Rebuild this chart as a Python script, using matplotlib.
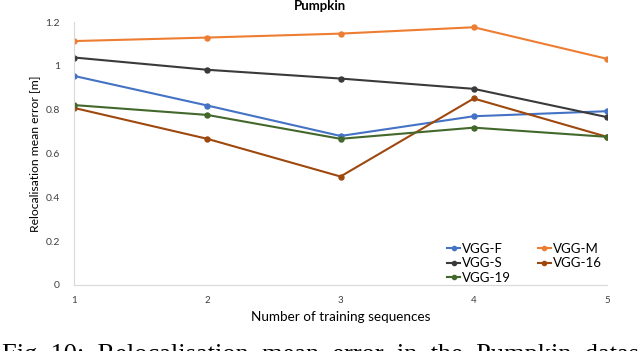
import matplotlib
matplotlib.use("Agg")
import matplotlib.pyplot as plt

x = [1, 2, 3, 4, 5]
series_names = ["VGG-F", "VGG-M", "VGG-S", "VGG-16", "VGG-19"]
vgg_f = [0.954, 0.819, 0.680, 0.770, 0.793]
vgg_m = [1.113, 1.129, 1.147, 1.176, 1.032]
vgg_s = [1.038, 0.982, 0.942, 0.895, 0.766]
vgg_16 = [0.808, 0.667, 0.495, 0.851, 0.676]
vgg_19 = [0.821, 0.776, 0.667, 0.718, 0.676]
y_ticks = [0, 0.2, 0.4, 0.6, 0.8, 1.0, 1.2]
y_tick_labels = ["0", "0.2", "0.4", "0.6", "0.8", "1", "1.2"]
caption = "Fig. 10:  Relocalisation  mean  error  in  the  Pumpkin  dataset"

colors = ["#4472C4", "#ED7D31", "#3A3A3A", "#9E480E", "#43682B"]

plt.rcParams['font.family'] = ['Lato', 'DejaVu Sans']

fig = plt.figure(figsize=(6.4, 3.51), dpi=100)
ax = fig.add_axes([74/640, 1-285/351, (607-74)/640, (285-22)/351])

handles = {}
for name, vals, c in zip(series_names, [vgg_f, vgg_m, vgg_s, vgg_16, vgg_19], colors):
    h, = ax.plot(x, vals, color=c, lw=1.5, marker='o', markersize=3.6, label=name)
    handles[name] = h

ax.set_xlim(1, 5)
ax.set_ylim(0, 1.2)
ax.set_xticks(x)
ax.set_xticklabels([str(v) for v in x], fontsize=7, color="#404040")
ax.set_yticks(y_ticks)
ax.set_yticklabels(y_tick_labels, fontsize=7.5, color="#404040")
ax.tick_params(length=0)
ax.tick_params(axis='x', pad=8)
ax.tick_params(axis='y', pad=10)
for s in ['top', 'right']:
    ax.spines[s].set_visible(False)
for s in ['left', 'bottom']:
    ax.spines[s].set_color("#D9D9D9")
    ax.spines[s].set_linewidth(0.8)

fig.text(0.5, 1-10/351, "Pumpkin", fontsize=9.5, fontweight='bold', ha='center', va='baseline')
ax.set_xlabel("Number of training sequences", fontsize=9.7, labelpad=4)
ax.set_ylabel("Relocalisation mean error [m]", fontsize=8.7, labelpad=4)

order = ["VGG-F", "VGG-S", "VGG-19", "VGG-M", "VGG-16"]
leg = ax.legend([handles[n] for n in order], order, ncol=2, loc='lower left',
                bbox_to_anchor=(447/640, 1-284/351), bbox_transform=fig.transFigure,
                frameon=False, fontsize=9.5, handlelength=1.0, handletextpad=0.15,
                columnspacing=2.0, labelspacing=0.2, borderaxespad=0, borderpad=0)
for h in leg.get_lines():
    h.set_linewidth(1.5)
    h.set_markersize(3)

fig.text(0.003, -10/351, caption,
         family=['Liberation Serif', 'DejaVu Serif'], fontsize=19, va='baseline', ha='left')

fig.savefig("out.png", dpi=100)
